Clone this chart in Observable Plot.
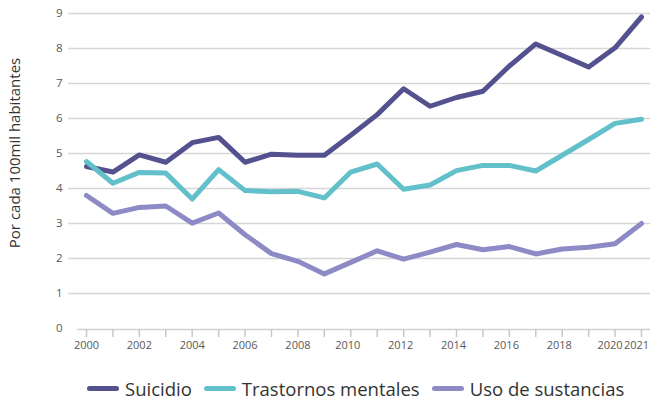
<!DOCTYPE html>
<html>
<head>
<meta charset="utf-8">
<script src="https://cdn.jsdelivr.net/npm/d3@7"></script>
<script src="https://cdn.jsdelivr.net/npm/@observablehq/plot@0.6"></script>
<style>
  html, body { margin: 0; padding: 0; background: #fff; }
  body { width: 653px; height: 403px; overflow: hidden; font-family: "Open Sans", sans-serif; }
  #legend { display: flex; align-items: center; margin-top: 12px; padding-left: 87px; height: 20px; font-size: 18.5px; color: #333; }
  #legend .item { display: flex; align-items: center; margin-right: 12px; }
  #legend .sw { width: 32px; height: 5px; border-radius: 3px; margin-right: 6px; }
</style>
</head>
<body>
<div id="chart"></div>
<div id="legend"></div>
<script>
const years = [2000,2001,2002,2003,2004,2005,2006,2007,2008,2009,2010,2011,2012,2013,2014,2015,2016,2017,2018,2019,2020,2021];
const suicidio = [4.63,4.47,4.96,4.75,5.31,5.46,4.75,4.98,4.95,4.95,5.52,6.11,6.85,6.35,6.60,6.78,7.50,8.13,7.80,7.47,8.02,8.90];
const trastornos = [4.77,4.15,4.46,4.44,3.70,4.54,3.94,3.91,3.92,3.73,4.47,4.70,3.98,4.10,4.51,4.66,4.66,4.50,4.95,5.40,5.86,5.98];
const sustancias = [3.80,3.29,3.46,3.50,3.01,3.30,2.68,2.14,1.92,1.56,1.89,2.22,1.98,2.18,2.40,2.25,2.34,2.13,2.27,2.32,2.42,3.00];
const seriesNames = ["Suicidio", "Trastornos mentales", "Uso de sustancias"];
const seriesColors = ["#53528f", "#62c0cb", "#8e8ac6"];
const yTicks = [0,1,2,3,4,5,6,7,8,9];
const xLabelsA = [2000,2002,2004,2006,2008];
const xLabelsB = [2010,2012,2014,2016,2018];
const xLabelsC = [2020,2021];
const yLabel = "Por cada 100mil habitantes";

const seriesValues = [suicidio, trastornos, sustancias];
const data = [];
seriesNames.forEach((s, i) => years.forEach((y, j) => data.push({serie: s, year: y, value: seriesValues[i][j]})));

const labelOpts = {tickSize: 0, tickPadding: 13, tickFormat: "d", fontSize: 11, fill: "#595959", label: null};

const chart = Plot.plot({
  width: 653,
  height: 366,
  marginLeft: 68,
  marginRight: 3,
  marginTop: 13,
  marginBottom: 38,
  style: {fontFamily: "Open Sans, sans-serif", background: "#fff"},
  x: {domain: [2000, 2021], insetLeft: 18, insetRight: 9},
  y: {domain: [0, 9]},
  color: {domain: seriesNames, range: seriesColors},
  marks: [
    Plot.ruleY(yTicks.filter(d => d > 0), {stroke: "#d6d6d6", strokeWidth: 1.5}),
    Plot.ruleY([0], {stroke: "#d0d0d0", strokeWidth: 1.5, insetLeft: 9, dy: 1}),
    Plot.axisX({ticks: years, tickSize: 8, tickFormat: () => "", stroke: "#c8c8c8", strokeWidth: 1.5, label: null, dy: 1}),
    Plot.axisX({...labelOpts, ticks: xLabelsA, dx: 0}),
    Plot.axisX({...labelOpts, ticks: xLabelsB, dx: -3}),
    Plot.axisX({...labelOpts, ticks: xLabelsC, dx: -5}),
    Plot.axisY({ticks: yTicks, tickSize: 0, tickPadding: 6, fontSize: 11.5, fill: "#595959", label: null}),
    Plot.text([yLabel], {text: d => d, frameAnchor: "left", textAnchor: "middle", rotate: -90, dx: -53, dy: -18, fontSize: 15, fill: "#333"}),
    Plot.lineY(data, {x: "year", y: "value", stroke: "serie", z: "serie", strokeWidth: 5})
  ]
});
document.getElementById("chart").appendChild(chart);

const legend = document.getElementById("legend");
seriesNames.forEach((s, i) => {
  const item = document.createElement("div");
  item.className = "item";
  const sw = document.createElement("div");
  sw.className = "sw";
  sw.style.background = seriesColors[i];
  const t = document.createElement("span");
  t.textContent = s;
  item.appendChild(sw);
  item.appendChild(t);
  legend.appendChild(item);
});
</script>
</body>
</html>
